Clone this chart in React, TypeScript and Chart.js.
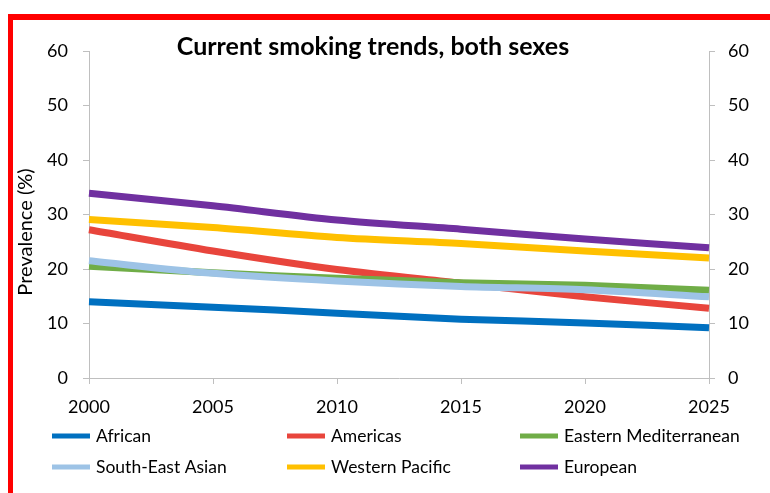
import React, { useEffect, useRef } from "react";
import { Chart, registerables } from "chart.js";

Chart.register(...registerables);

const years = ["2000", "2005", "2010", "2015", "2020", "2025"];
const african = [14.0, 13.0, 11.9, 10.8, 10.1, 9.2];
const americas = [27.2, 23.3, 19.9, 17.4, 14.9, 12.8];
const easternMed = [20.5, 19.3, 18.3, 17.5, 17.0, 16.1];
const seAsian = [21.5, 19.2, 17.8, 16.8, 16.2, 14.9];
const westernPacific = [29.1, 27.6, 25.8, 24.7, 23.3, 22.0];
const european = [33.9, 31.6, 29.0, 27.3, 25.5, 23.9];

const seriesNames = ["African", "Americas", "Eastern Mediterranean", "South-East Asian", "Western Pacific", "European"];
const seriesColors = ["#0070C0", "#E8453C", "#70AD47", "#9DC3E6", "#FFC000", "#7030A0"];
const seriesData = [african, americas, easternMed, seAsian, westernPacific, european];
// drawing order: lower number is drawn on top
const seriesOrder = [0, 4, 3, 2, 1, 1];

const titleText = "Current smoking trends, both sexes";
const yTitle = "Prevalence (%)";
const FONT = "Lato, 'Open Sans', sans-serif";

const overlay = {
  id: "overlay",
  beforeDraw(chart: any) {
    const ctx = chart.ctx;
    ctx.save();
    ctx.fillStyle = "#ffffff";
    ctx.fillRect(0, 0, chart.width, chart.height);
    ctx.restore();
  },
  afterDraw(chart: any) {
    const ctx = chart.ctx;
    ctx.save();
    // red frame
    ctx.fillStyle = "#FF0000";
    ctx.fillRect(8, 14, chart.width - 8, 6);
    ctx.fillRect(8, 14, 5, chart.height - 14);
    // title
    ctx.fillStyle = "#000000";
    ctx.font = `bold 25px ${FONT}`;
    ctx.textAlign = "center";
    ctx.textBaseline = "middle";
    ctx.fillText(titleText, 373, 47);
    // y title
    ctx.save();
    ctx.translate(26, 232);
    ctx.rotate(-Math.PI / 2);
    ctx.font = `20px ${FONT}`;
    ctx.fillStyle = "#000000";
    ctx.fillText(yTitle, 0, 0);
    ctx.restore();
    // legend
    const cols = [52, 287, 520];
    const rows = [436, 467];
    ctx.font = `17.5px ${FONT}`;
    ctx.textAlign = "left";
    ctx.textBaseline = "middle";
    seriesNames.forEach((name, i) => {
      const x = cols[i % 3];
      const y = rows[Math.floor(i / 3)];
      ctx.fillStyle = seriesColors[i];
      ctx.fillRect(x, y - 2.5, 38, 5);
      ctx.fillStyle = "#000000";
      ctx.fillText(name, x + 44, y);
    });
    ctx.restore();
  },
};

export default function App() {
  const ref = useRef<HTMLCanvasElement>(null);
  useEffect(() => {
    document.body.style.margin = "0";
    const axisColor = "#BFBFBF";
    const tickFont = { family: FONT, size: 18 };
    const chart = new Chart(ref.current as HTMLCanvasElement, {
      type: "line",
      data: {
        labels: years,
        datasets: seriesData.map((d, i) => ({
          label: seriesNames[i],
          data: d,
          borderColor: seriesColors[i],
          backgroundColor: seriesColors[i],
          borderWidth: 7,
          pointRadius: 0,
          tension: 0.3,
          fill: false,
          order: seriesOrder[i],
          yAxisID: "y",
        })),
      },
      options: {
        animation: false,
        responsive: false,
        devicePixelRatio: 1,
        layout: { padding: { top: 51, left: 0, right: 0, bottom: 0 } },
        plugins: { legend: { display: false }, tooltip: { enabled: false }, title: { display: false } },
        scales: {
          x: {
            offset: false,
            grid: { drawOnChartArea: false, drawTicks: true, tickLength: 6, color: axisColor },
            border: { color: axisColor },
            ticks: { color: "#000", font: tickFont, padding: 12, maxRotation: 0 },
            afterFit: (s: any) => { s.height = 115; },
          },
          y: {
            position: "left",
            min: 0,
            max: 60,
            grid: { drawOnChartArea: false, drawTicks: true, tickLength: 6, color: axisColor },
            border: { color: axisColor },
            ticks: { stepSize: 10, color: "#000", font: tickFont, padding: 15 },
            afterFit: (s: any) => { s.width = 89; },
          },
          y2: {
            position: "right",
            min: 0,
            max: 60,
            grid: { drawOnChartArea: false, drawTicks: true, tickLength: 6, color: axisColor },
            border: { color: axisColor },
            ticks: { stepSize: 10, color: "#000", font: tickFont, padding: 13 },
            afterFit: (s: any) => { s.width = 61; },
          },
        },
      },
      plugins: [overlay],
    } as any);
    return () => chart.destroy();
  }, []);
  return (
    <div style={{ position: "absolute", left: 0, top: 0, width: 770, height: 493 }}>
      <canvas ref={ref} width={770} height={493} style={{ width: 770, height: 493, display: "block" }} />
    </div>
  );
}
